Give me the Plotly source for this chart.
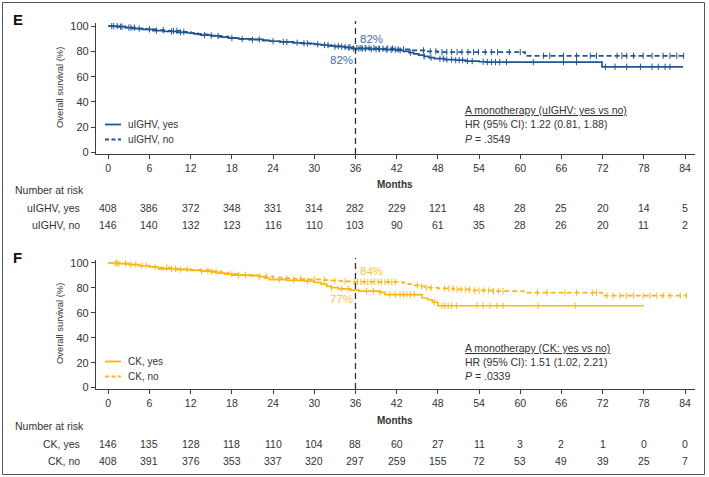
import plotly.graph_objects as go
import numpy as np

W, H = 709, 477

# ---------------- data ----------------
months_ticks = [0, 6, 12, 18, 24, 30, 36, 42, 48, 54, 60, 66, 72, 78, 84]

# Panel E : uIGHV
e_yes_t = [0, 1.5, 2.5, 3.5, 5, 6.5, 8, 10, 11.5, 12.5, 13.5, 15, 16.5, 17.5, 19, 21, 22.5, 23.5, 25, 27, 28.5,
           30, 31, 32, 33, 34.5, 35.5, 38, 40, 42, 43, 43.8, 44.5, 45.2, 46, 46.7, 47.5, 49, 50.5, 52, 54, 55, 71.9, 83.7]
e_yes_s = [100, 99.5, 98.8, 98, 97.3, 96.3, 95.7, 95, 94.5, 93.8, 92.8, 92.2, 91.3, 90.4, 89.8, 89.4, 88.7, 88, 87.5,
           86.8, 86.2, 85.5, 85, 84.3, 83.7, 82.9, 82.2, 81.7, 81.3, 80.8, 80, 79, 78, 77, 76, 75, 74.2, 73.5, 73, 72.3,
           71.8, 71.5, 67.8, 67.8]
e_yes_cens = [0.8, 1.3, 2, 3.3, 4.5, 7, 9.2, 10.5, 14, 16, 19.5, 22, 25.5, 27.5, 29, 31.5, 33, 34, 35, 35.7, 36.5, 37,
              37.5, 38.3, 39, 39.5, 40.5, 41.2, 41.8, 42.5, 44, 46, 47, 48.3, 48.8, 49.3, 50, 50.6, 51.1, 51.6, 52.3,
              53, 54.6, 55.2, 55.8, 56.4, 57, 58, 61.9, 66.3, 68.2, 72.4, 73.8, 75.5, 77.5, 79.2, 80.1, 81.1, 81.8]
e_no_t = [0, 1, 2.5, 4, 5.5, 7, 8.5, 10.5, 12, 13, 14.5, 16, 17.5, 19, 20.5, 22, 23.5, 25, 26.5, 28, 29.5, 31, 32.5,
          34, 35.5, 39, 42, 44, 46, 48, 60.7, 84.2]
e_no_s = [100, 99.5, 98.8, 98, 97.4, 96.8, 96.2, 95.4, 94.4, 93.4, 92.5, 91.6, 90.6, 89.8, 89.2, 88.6, 88, 87.4, 86.8,
          86.3, 85.6, 85, 84.2, 83.4, 82.6, 82.2, 81.6, 80.8, 80, 79.4, 76.5, 76.5]
e_no_cens = [0.5, 1.8, 3, 3.8, 6, 8, 9.5, 10, 11, 15, 18, 21, 24, 26, 28.5, 30.5, 32, 33.5, 34.5, 35.2, 36.2, 36.8,
             37.4, 38, 38.7, 39.4, 40, 40.7, 41.4, 42.2, 43, 45.9, 46.9, 47.7, 48.6, 49.3, 50, 50.8, 51.5, 52.4, 53.2,
             53.9, 54.9, 55.8, 56.7, 58.4, 60, 63.4, 64.3, 66.3, 68.2, 70.2, 71.1, 74.1, 74.8, 75.5, 76.5, 77.9,
             79.2, 80.8, 81.8, 82.8, 83.8]

# Panel F : CK
f_yes_t = [0, 1.5, 3, 4.5, 6, 7.3, 10, 12, 13.5, 15, 16, 17, 18, 20.5, 22, 22.8, 23.5, 26, 28.5, 30, 31, 31.8, 32.5,
           33.5, 35.3, 36.5, 39.5, 40.3, 45.7, 46.5, 47.2, 48, 78]
f_yes_s = [100, 99.5, 98.7, 97.8, 96.8, 95.2, 94.6, 94, 93.4, 92.7, 91.8, 91, 90.3, 89.8, 88.9, 87.8, 86.6, 86, 85.5,
           84.4, 83, 81.2, 80.2, 79.3, 78.2, 77.5, 76.5, 74.6, 71.9, 70.5, 68.5, 65.7, 65.7]
f_yes_cens = [1, 1.5, 3.3, 4.9, 6.8, 9.2, 10.5, 13.6, 15.7, 19, 22, 24.9, 27, 29, 32.5, 34, 35, 37.6, 38.6, 39.6,
              41, 41.8, 42.5, 43, 43.5, 44, 44.6, 47.5, 48.6, 49, 49.5, 50, 50.7, 53.7, 54.6, 55.6, 56.6, 57.5, 62.6,
              68]
f_no_t = [0, 1.5, 3, 4.5, 6, 7.5, 9, 10.5, 12, 13.5, 15, 16.5, 17.5, 19, 21, 22.5, 24, 25.5, 27, 29, 31, 32.5, 34,
          35.5, 42.9, 43.7, 44.4, 45.2, 46.1, 48, 50.3, 53.2, 56, 60.5, 71.9, 84.2]
f_no_s = [100, 99.5, 98.8, 98, 97, 96.3, 95.5, 95, 94.5, 94, 93.2, 92.2, 91.2, 90.5, 90, 89.3, 88.3, 87.8, 87.2,
          86.8, 86.3, 85.8, 85.3, 84.8, 84, 83.1, 82, 81.2, 80.2, 79.7, 78.8, 78, 77.5, 76.2, 73.8, 73.8]
f_no_cens = [1.2, 2.5, 4, 5.5, 8.5, 9.8, 11.5, 14.5, 15, 18, 20, 23, 26, 28, 30, 31.5, 33, 34.5, 35.8, 36.3, 36.8,
             37.3, 37.8, 38.3, 38.8, 39.3, 39.8, 40.3, 40.8, 41.3, 41.8, 45, 45.6, 46.3, 47, 49, 49.6, 50.2, 50.8,
             51.4, 52, 52.6, 53.3, 54, 54.7, 55.4, 56.1, 56.8, 57.5, 62.5, 63.9, 66.5, 68.2, 70.5, 71.1, 72.6, 73.5,
             74.5, 75.5, 76.5, 77.9, 78.9, 79.9, 80.8, 81.8, 83.3, 84.2]

e_risk_labels = ["uIGHV, yes", "uIGHV, no"]
e_risk_yes = [408, 386, 372, 348, 331, 314, 282, 229, 121, 48, 28, 25, 20, 14, 5]
e_risk_no = [146, 140, 132, 123, 116, 110, 103, 90, 61, 35, 28, 26, 20, 11, 2]
f_risk_labels = ["CK, yes", "CK, no"]
f_risk_yes = [146, 135, 128, 118, 110, 104, 88, 60, 27, 11, 3, 2, 1, 0, 0]
f_risk_no = [408, 391, 376, 353, 337, 320, 297, 259, 155, 72, 53, 49, 39, 25, 7]

e_pct = ["82%", "82%"]
f_pct = ["84%", "77%"]
e_stats = ["A monotherapy (uIGHV: yes vs no)", "HR (95% CI): 1.22 (0.81, 1.88)", ".3549"]
f_stats = ["A monotherapy (CK: yes vs no)", "HR (95% CI): 1.51 (1.02, 2.21)", ".0339"]

# ---------------- style ----------------
BLUE = "#1f5592"
BLUE_TXT = "#3f6fa6"
YEL = "#f8b716"
YEL_TXT = "#f9c446"
TXT = "#333333"
AX = "#3c3c3c"
FR = "Liberation Sans, Arial, Helvetica, sans-serif"
FN = FR
NS = 10.5  # size of the table / tick text


def px(x):
    return x / W


def py(y):
    return 1 - y / H


def step_at(ts, ss, t):
    i = np.searchsorted(np.array(ts), t, side="right") - 1
    return ss[max(i, 0)]


def ann(text, x, y, xanchor="center", size=10.5, color=TXT, xref="paper", **kw):
    return dict(text=text, x=x, y=py(y), xref=xref, yref="paper", xanchor=xanchor, yanchor="middle",
                showarrow=False, font=dict(family=FR, size=size, color=color), **kw)


fig = go.Figure()

panels = [
    dict(xa="x", ya="y", off=0, top=23, bot=154, yes=(e_yes_t, e_yes_s, e_yes_cens), no=(e_no_t, e_no_s, e_no_cens),
         col=BLUE, tcol=BLUE_TXT, letter="E", rl=e_risk_labels, ry=e_risk_yes, rn=e_risk_no, pct=e_pct,
         stats=e_stats, leg=["uIGHV, yes", "uIGHV, no"], pcty=(39, 59.5), so=0, lo=0),
    dict(xa="x2", ya="y2", off=236, top=260, bot=389, yes=(f_yes_t, f_yes_s, f_yes_cens),
         no=(f_no_t, f_no_s, f_no_cens), col=YEL, tcol=YEL_TXT, letter="F", rl=f_risk_labels, ry=f_risk_yes,
         rn=f_risk_no, pct=f_pct, stats=f_stats, leg=["CK, yes", "CK, no"], pcty=(34.5, 63), so=1.5, lo=1),
]

annotations = []
shapes = []

for k, p in enumerate(panels):
    for key, dash in (("no", "5px,3px"), ("yes", "solid")):
        t, s, c = p[key]
        fig.add_trace(go.Scatter(x=t, y=s, mode="lines", line=dict(color=p["col"], width=1.7, shape="hv", dash=dash),
                                 xaxis=p["xa"], yaxis=p["ya"], showlegend=False, hoverinfo="skip"))
        cy = [step_at(t, s, v) for v in c]
        fig.add_trace(go.Scatter(x=c, y=cy, mode="markers",
                                 marker=dict(symbol="line-ns-open", size=4.5, color=p["col"],
                                             line=dict(color=p["col"], width=1)),
                                 xaxis=p["xa"], yaxis=p["ya"], showlegend=False, hoverinfo="skip"))
    o = p["off"]
    # vertical dashed line at 36 months
    shapes.append(dict(type="line", xref=p["xa"], yref="paper", x0=36, x1=36, y0=py(p["bot"]), y1=py(p["top"] - 2),
                       line=dict(color="#333333", width=1.3, dash="6px,4px")))
    # panel letter
    annotations.append(ann("<b>%s</b>" % p["letter"], px(11), 20 + o + (1.5 if k else 0), xanchor="left", size=15,
                           color="#111111"))
    # y title
    annotations.append(ann("Overall survival (%)", px(59), 88 + o, size=9.4, textangle=-90))
    # Months
    annotations.append(ann("<b>Months</b>", px(395), 184 + o, size=10))
    # Number at risk
    annotations.append(ann("Number at risk", px(13), 190 + o, xanchor="left", size=NS))
    for r, (lab, vals) in enumerate(zip(p["rl"], (p["ry"], p["rn"]))):
        yy = 207.5 + o + r * 17.5
        annotations.append(ann(lab, px(82), yy, xanchor="right", size=NS))
        for m, v in zip(months_ticks, vals):
            annotations.append(ann(str(v), m, yy, xref=p["xa"], size=NS))
    # percentages
    annotations.append(ann(p["pct"][0], px(371), p["pcty"][0] + o, size=11.5, color=p["tcol"]))
    annotations.append(ann(p["pct"][1], px(341), p["pcty"][1] + o, size=11.5, color=p["tcol"]))
    # stats
    st = p["stats"]
    so = o + p["so"]
    annotations.append(ann("<u>%s</u>" % st[0], px(463), 110 + so, xanchor="left"))
    annotations.append(ann(st[1], px(463), 124 + so, xanchor="left"))
    annotations.append(ann("<i>P</i> = " + st[2], px(463), 138.5 + so, xanchor="left"))
    # legend
    for r, (lab, dash) in enumerate(zip(p["leg"], ("solid", "4px,2.5px"))):
        ly = 124.5 + o + r * 15 + p["lo"]
        shapes.append(dict(type="line", xref="paper", yref="paper", x0=px(105), x1=px(121), y0=py(ly), y1=py(ly),
                           line=dict(color=p["col"], width=1.8, dash=dash)))
        annotations.append(ann(lab, px(126), ly, xanchor="left", size=10))

# outer frame
shapes.append(dict(type="rect", xref="paper", yref="paper", x0=px(2.5), x1=px(704.5), y0=py(474.5), y1=py(2.5),
                   line=dict(color="#555555", width=1)))

xcommon = dict(range=[-1.79, 85.45], domain=[px(96), px(695)], tickvals=months_ticks, ticks="outside", ticklen=4,
               tickwidth=1, tickcolor=AX, showline=True, linecolor=AX, linewidth=1.2, showgrid=False, zeroline=False,
               tickfont=dict(family=FN, size=NS, color=TXT), fixedrange=True, automargin=False)
ycommon = dict(range=[-1.1, 102.4], tickvals=[0, 20, 40, 60, 80, 100], ticks="outside", ticklen=4, tickwidth=1,
               tickcolor=AX, showline=True, linecolor=AX, linewidth=1.2, showgrid=False, zeroline=False,
               tickfont=dict(family=FR, size=11, color=TXT), fixedrange=True, automargin=False)

fig.update_layout(
    width=W, height=H, margin=dict(l=0, r=0, t=0, b=0, autoexpand=False), paper_bgcolor="white",
    plot_bgcolor="white",
    xaxis=dict(**xcommon, anchor="y"),
    yaxis=dict(**ycommon, domain=[py(154), py(23)], anchor="x"),
    xaxis2=dict(**xcommon, anchor="y2"),
    yaxis2=dict(**ycommon, domain=[py(389), py(260)], anchor="x2"),
    annotations=annotations, shapes=shapes, showlegend=False,
)

fig.write_html("out.html", config={"displayModeBar": False},
               post_script="document.body.style.margin='0';document.body.style.overflow='hidden';")
